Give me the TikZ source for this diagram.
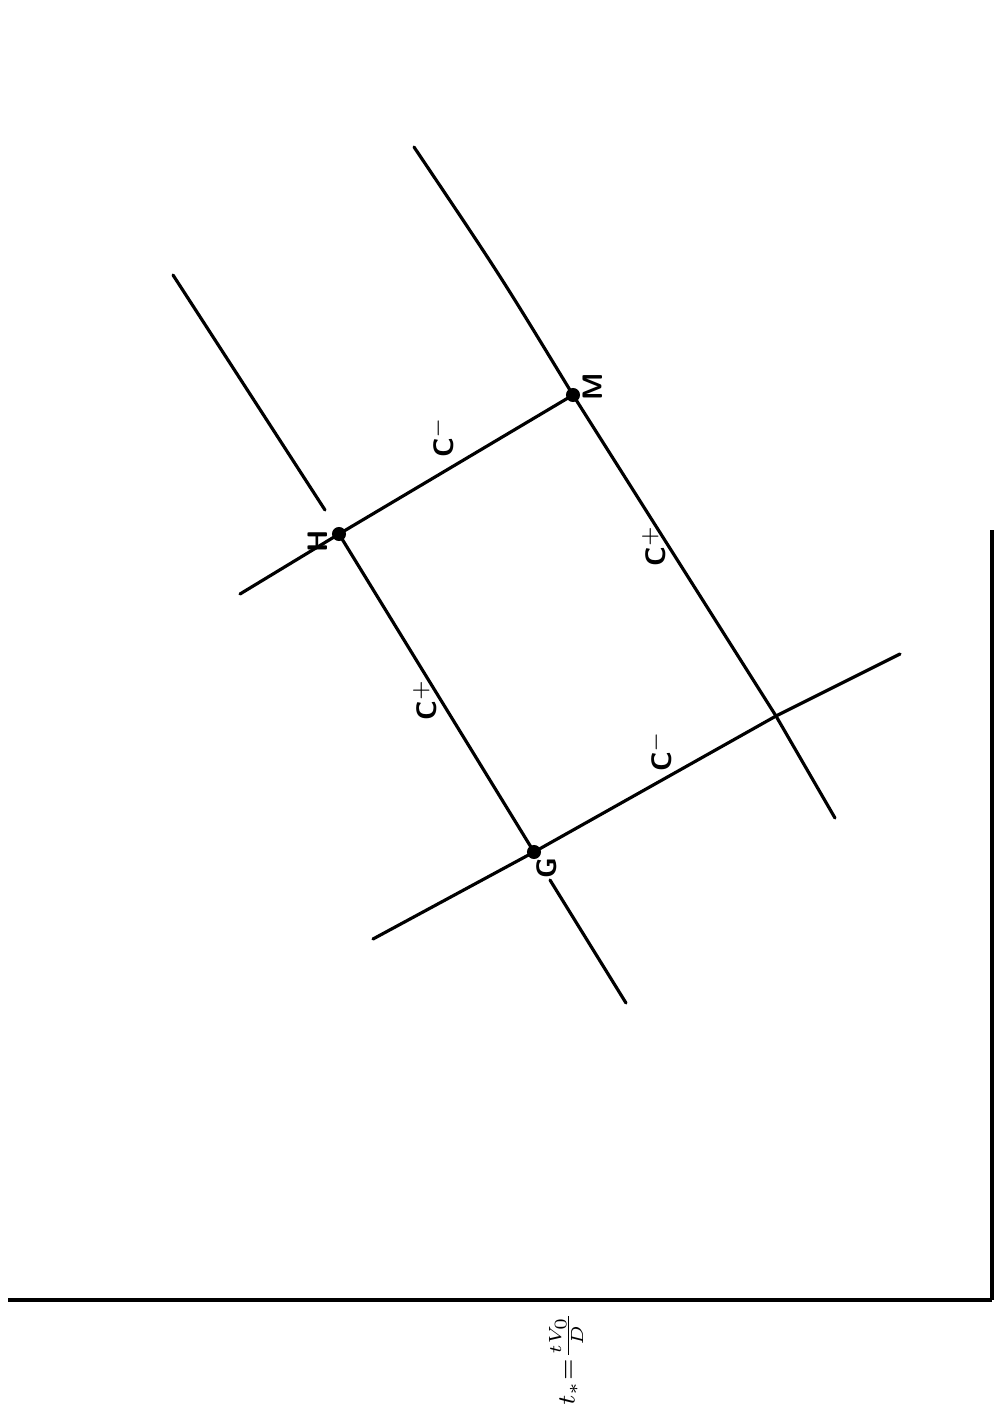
\documentclass[tikz,border=0pt]{standalone}
\usepackage{tikz}
\tikzset{
    charline/.style={line width=0.9pt, line cap=round},
    axisline/.style={line width=1.3pt},
    ptlabel/.style={font=\sffamily\bfseries\footnotesize, rotate=90, inner sep=1pt},
    dotpt/.style={circle, fill=black, inner sep=0pt, minimum size=4pt}
}

\begin{document}
\begin{tikzpicture}[x=0.01cm, y=-0.01cm]
            \useasboundingbox (0,0) rectangle (999,1405);
            % points of the net
            \node[dotpt] (H) at (339,534) {};
            \node[dotpt] (M) at (573,395) {};
            \node[dotpt] (G) at (534,852) {};
            \coordinate (X) at (776,716);

            % free ends
            \coordinate (h1) at (173,275);
            \coordinate (h2) at (325,510);
            \coordinate (g1) at (550,880);
            \coordinate (g2) at (626,1003);
            \coordinate (m1) at (414,147);
            \coordinate (x1) at (835,818);
            \coordinate (hl) at (240,594);
            \coordinate (gl) at (373,939);
            \coordinate (xr) at (900,654);

            % C+ lines
            \draw[charline] (h1) -- (h2);
            \draw[charline] (H.center) -- (G.center);
            \draw[charline] (g1) -- (g2);
            \draw[charline] (m1) .. controls (500,275) .. (M.center) -- (X) -- (x1);

            % C- lines
            \draw[charline] (hl) -- (H.center) -- (M.center);
            \draw[charline] (gl) -- (G.center) -- (X) -- (xr);

            % axes
            \coordinate (o) at (992,1300);
            \draw[axisline] (8,1300) -- (o);
            \draw[line width=1pt] (o) -- (992,530);

            \node[ptlabel] (lH) at (318,541) {H};
            \node[ptlabel] (lM) at (593,387) {M};
            \node[ptlabel] (lG) at (547,868) {G};
            \node[ptlabel] (c1) at (442,437) {C$^{-}$};
            \node[ptlabel] (c2) at (654,546) {C$^{+}$};
            \node[ptlabel] (c3) at (425,700) {C$^{+}$};
            \node[ptlabel] (c4) at (660,751) {C$^{-}$};
            \node[ptlabel, font=\scriptsize, anchor=east] (tstar) at (566,1308) {$t_*{=}\frac{tV_0}{D}$};
\end{tikzpicture}
\end{document}
